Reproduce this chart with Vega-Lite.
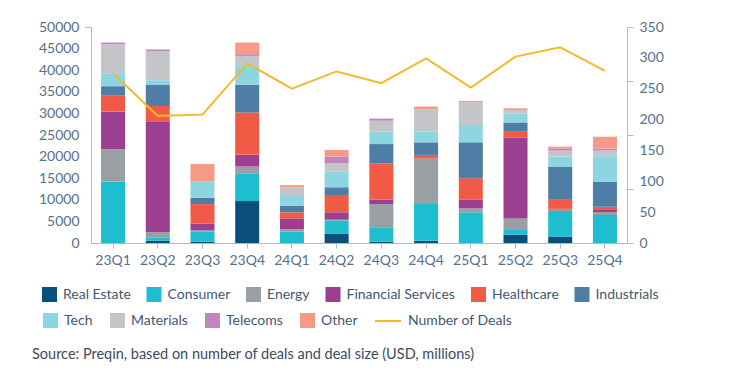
{
  "$schema": "https://vega.github.io/schema/vega-lite/v6.json",
  "autosize": "none",
  "width": 536,
  "height": 216,
  "padding": {"left": 91, "top": 27, "right": 123, "bottom": 134},
  "background": "white",
  "config": {
    "view": {"stroke": null},
    "font": "Lato",
    "axis": {"labelFont": "Lato", "labelFontSize": 14, "labelColor": "#56718c", "domainColor": "#b5b9bd", "tickColor": "#b5b9bd", "grid": false, "title": null},
    "legend": {"padding": 0, "offset": 0, "labelFont": "Lato", "labelFontSize": 14, "labelColor": "#3f5873", "title": null}
  },
  "title": {
    "text": "Source: Preqin, based on number of deals and deal size (USD, millions)",
    "orient": "bottom",
    "anchor": "start",
    "frame": "group",
    "dx": -59,
    "offset": 20,
    "font": "Lato",
    "fontSize": 14.5,
    "fontWeight": "normal",
    "color": "#3d4b5c"
  },
  "datasets": {
    "deals": [
      {"q": "23Q1", "sector": "Consumer", "v": 14200},
      {"q": "23Q1", "sector": "Energy", "v": 7500},
      {"q": "23Q1", "sector": "Financial Services", "v": 8700},
      {"q": "23Q1", "sector": "Healthcare", "v": 3700},
      {"q": "23Q1", "sector": "Industrials", "v": 2200},
      {"q": "23Q1", "sector": "Tech", "v": 3000},
      {"q": "23Q1", "sector": "Materials", "v": 6700},
      {"q": "23Q1", "sector": "Telecoms", "v": 400},
      {"q": "23Q2", "sector": "Real Estate", "v": 500},
      {"q": "23Q2", "sector": "Consumer", "v": 700},
      {"q": "23Q2", "sector": "Energy", "v": 1300},
      {"q": "23Q2", "sector": "Financial Services", "v": 25700},
      {"q": "23Q2", "sector": "Healthcare", "v": 3500},
      {"q": "23Q2", "sector": "Industrials", "v": 4900},
      {"q": "23Q2", "sector": "Tech", "v": 1100},
      {"q": "23Q2", "sector": "Materials", "v": 6700},
      {"q": "23Q2", "sector": "Telecoms", "v": 400},
      {"q": "23Q3", "sector": "Real Estate", "v": 300},
      {"q": "23Q3", "sector": "Consumer", "v": 2400},
      {"q": "23Q3", "sector": "Energy", "v": 200},
      {"q": "23Q3", "sector": "Financial Services", "v": 1600},
      {"q": "23Q3", "sector": "Healthcare", "v": 4500},
      {"q": "23Q3", "sector": "Industrials", "v": 1500},
      {"q": "23Q3", "sector": "Tech", "v": 3700},
      {"q": "23Q3", "sector": "Other", "v": 4100},
      {"q": "23Q4", "sector": "Real Estate", "v": 9700},
      {"q": "23Q4", "sector": "Consumer", "v": 6300},
      {"q": "23Q4", "sector": "Energy", "v": 1700},
      {"q": "23Q4", "sector": "Financial Services", "v": 2700},
      {"q": "23Q4", "sector": "Healthcare", "v": 9800},
      {"q": "23Q4", "sector": "Industrials", "v": 6400},
      {"q": "23Q4", "sector": "Tech", "v": 4400},
      {"q": "23Q4", "sector": "Materials", "v": 2300},
      {"q": "23Q4", "sector": "Telecoms", "v": 400},
      {"q": "23Q4", "sector": "Other", "v": 2700},
      {"q": "24Q1", "sector": "Consumer", "v": 2600},
      {"q": "24Q1", "sector": "Energy", "v": 600},
      {"q": "24Q1", "sector": "Financial Services", "v": 2500},
      {"q": "24Q1", "sector": "Healthcare", "v": 1400},
      {"q": "24Q1", "sector": "Industrials", "v": 1500},
      {"q": "24Q1", "sector": "Tech", "v": 2500},
      {"q": "24Q1", "sector": "Materials", "v": 1800},
      {"q": "24Q1", "sector": "Other", "v": 500},
      {"q": "24Q2", "sector": "Real Estate", "v": 2200},
      {"q": "24Q2", "sector": "Consumer", "v": 3000},
      {"q": "24Q2", "sector": "Energy", "v": 200},
      {"q": "24Q2", "sector": "Financial Services", "v": 1700},
      {"q": "24Q2", "sector": "Healthcare", "v": 4000},
      {"q": "24Q2", "sector": "Industrials", "v": 1800},
      {"q": "24Q2", "sector": "Tech", "v": 3600},
      {"q": "24Q2", "sector": "Materials", "v": 1900},
      {"q": "24Q2", "sector": "Telecoms", "v": 1600},
      {"q": "24Q2", "sector": "Other", "v": 1500},
      {"q": "24Q3", "sector": "Real Estate", "v": 300},
      {"q": "24Q3", "sector": "Consumer", "v": 3200},
      {"q": "24Q3", "sector": "Energy", "v": 5500},
      {"q": "24Q3", "sector": "Financial Services", "v": 1000},
      {"q": "24Q3", "sector": "Healthcare", "v": 8400},
      {"q": "24Q3", "sector": "Industrials", "v": 4500},
      {"q": "24Q3", "sector": "Tech", "v": 2900},
      {"q": "24Q3", "sector": "Materials", "v": 2500},
      {"q": "24Q3", "sector": "Telecoms", "v": 500},
      {"q": "24Q4", "sector": "Real Estate", "v": 500},
      {"q": "24Q4", "sector": "Consumer", "v": 8500},
      {"q": "24Q4", "sector": "Energy", "v": 10600},
      {"q": "24Q4", "sector": "Healthcare", "v": 800},
      {"q": "24Q4", "sector": "Industrials", "v": 2900},
      {"q": "24Q4", "sector": "Tech", "v": 2500},
      {"q": "24Q4", "sector": "Materials", "v": 5100},
      {"q": "24Q4", "sector": "Other", "v": 700},
      {"q": "25Q1", "sector": "Consumer", "v": 7100},
      {"q": "25Q1", "sector": "Energy", "v": 900},
      {"q": "25Q1", "sector": "Financial Services", "v": 2000},
      {"q": "25Q1", "sector": "Healthcare", "v": 5000},
      {"q": "25Q1", "sector": "Industrials", "v": 8300},
      {"q": "25Q1", "sector": "Tech", "v": 4000},
      {"q": "25Q1", "sector": "Materials", "v": 5300},
      {"q": "25Q1", "sector": "Other", "v": 300},
      {"q": "25Q2", "sector": "Real Estate", "v": 1900},
      {"q": "25Q2", "sector": "Consumer", "v": 1300},
      {"q": "25Q2", "sector": "Energy", "v": 2500},
      {"q": "25Q2", "sector": "Financial Services", "v": 18700},
      {"q": "25Q2", "sector": "Healthcare", "v": 1500},
      {"q": "25Q2", "sector": "Industrials", "v": 2000},
      {"q": "25Q2", "sector": "Tech", "v": 2100},
      {"q": "25Q2", "sector": "Materials", "v": 800},
      {"q": "25Q2", "sector": "Other", "v": 400},
      {"q": "25Q3", "sector": "Real Estate", "v": 1500},
      {"q": "25Q3", "sector": "Consumer", "v": 5900},
      {"q": "25Q3", "sector": "Energy", "v": 500},
      {"q": "25Q3", "sector": "Healthcare", "v": 2100},
      {"q": "25Q3", "sector": "Industrials", "v": 7700},
      {"q": "25Q3", "sector": "Tech", "v": 2300},
      {"q": "25Q3", "sector": "Materials", "v": 1400},
      {"q": "25Q3", "sector": "Telecoms", "v": 400},
      {"q": "25Q3", "sector": "Other", "v": 500},
      {"q": "25Q4", "sector": "Consumer", "v": 6500},
      {"q": "25Q4", "sector": "Energy", "v": 600},
      {"q": "25Q4", "sector": "Financial Services", "v": 700},
      {"q": "25Q4", "sector": "Healthcare", "v": 600},
      {"q": "25Q4", "sector": "Industrials", "v": 5800},
      {"q": "25Q4", "sector": "Tech", "v": 5900},
      {"q": "25Q4", "sector": "Materials", "v": 1300},
      {"q": "25Q4", "sector": "Telecoms", "v": 500},
      {"q": "25Q4", "sector": "Other", "v": 2700}
    ],
    "counts": [
      {"q": "23Q1", "n": 275},
      {"q": "23Q2", "n": 206},
      {"q": "23Q3", "n": 208},
      {"q": "23Q4", "n": 291},
      {"q": "24Q1", "n": 250},
      {"q": "24Q2", "n": 278},
      {"q": "24Q3", "n": 259},
      {"q": "24Q4", "n": 299},
      {"q": "25Q1", "n": 252},
      {"q": "25Q2", "n": 302},
      {"q": "25Q3", "n": 317},
      {"q": "25Q4", "n": 279}
    ]
  },
  "encoding": {
    "x": {
      "field": "q",
      "type": "nominal",
      "sort": ["23Q1","23Q2","23Q3","23Q4","24Q1","24Q2","24Q3","24Q4","25Q1","25Q2","25Q3","25Q4"],
      "scale": {"paddingInner": 0.463, "paddingOuter": 0.225},
      "axis": {"labelAngle": 0, "tickSize": 5, "labelPadding": 5, "domainWidth": 1}
    }
  },
  "layer": [
    {
      "data": {"name": "deals"},
      "transform": [
        {"calculate": "indexof(['Real Estate','Consumer','Energy','Financial Services','Healthcare','Industrials','Tech','Materials','Telecoms','Other'], datum.sector)", "as": "ord"},
        {"stack": "v", "groupby": ["q"], "sort": [{"field": "ord", "order": "ascending"}], "as": ["v0", "v1"]}
      ],
      "encoding": {
        "y": {
          "field": "v0",
          "type": "quantitative",
          "scale": {"domain": [0, 50000], "nice": false},
          "axis": {
            "orient": "left",
            "values": [0,5000,10000,15000,20000,25000,30000,35000,40000,45000,50000],
            "format": "d",
            "labelPadding": 5,
            "tickSize": 7,
            "tickOpacity": {"condition": {"test": "datum.value === 50000", "value": 1}, "value": 0},
            "labelOverlap": false
          }
        },
        "y2": {"field": "v1"}
      },
      "layer": [
        {
          "transform": [{"filter": {"field": "ord", "lte": 5}}],
          "mark": {"type": "bar"},
          "encoding": {
            "fill": {
              "field": "sector",
              "type": "nominal",
              "scale": {
                "domain": ["Real Estate","Consumer","Energy","Financial Services","Healthcare","Industrials"],
                "range": ["#0a4f7a","#1ebdd0","#9a9fa3","#9c3f90","#f15a45","#4e7da6"]
              },
              "legend": {
                "orient": "none",
                "legendX": -49,
                "legendY": 260,
                "direction": "horizontal",
                "columns": 6,
                "symbolType": "square",
                "symbolSize": 225,
                "symbolStrokeWidth": 0,
                "labelOffset": 6,
                "columnPadding": 15.5
              }
            }
          }
        },
        {
          "transform": [{"filter": {"field": "ord", "gte": 6}}],
          "mark": {"type": "bar"},
          "encoding": {
            "color": {
              "field": "sector",
              "type": "nominal",
              "scale": {
                "domain": ["Tech","Materials","Telecoms","Other"],
                "range": ["#8dd5e0","#c3c5c8","#c086bd","#f59a87"]
              },
              "legend": {
                "orient": "none",
                "legendX": -48,
                "legendY": 286,
                "direction": "horizontal",
                "columns": 4,
                "symbolType": "square",
                "symbolSize": 225,
                "symbolStrokeWidth": 0,
                "labelOffset": 6,
                "columnPadding": 17
              }
            }
          }
        }
      ]
    },
    {
      "data": {"name": "counts"},
      "mark": {"type": "line", "strokeWidth": 2},
      "encoding": {
        "y": {
          "field": "n",
          "type": "quantitative",
          "scale": {"domain": [0, 350], "nice": false},
          "axis": {
            "orient": "right",
            "values": [0,50,87.5,100,150,175,200,250,262.5,300,350],
            "format": "d",
            "labelExpr": "datum.value % 50 === 0 ? datum.label : ''",
            "labelPadding": 6,
            "tickSize": 6,
            "tickOpacity": {"condition": {"test": "datum.value % 87.5 === 0", "value": 1}, "value": 0},
            "labelOverlap": false
          }
        },
        "stroke": {
          "datum": "Number of Deals",
          "type": "nominal",
          "scale": {"domain": ["Number of Deals"], "range": ["#f6b82b"]},
          "legend": {
            "orient": "none",
            "legendX": 283,
            "legendY": 280,
            "symbolType": "stroke",
            "symbolSize": 676,
            "symbolStrokeWidth": 2,
            "labelOffset": 6
          }
        }
      }
    }
  ],
  "resolve": {"scale": {"y": "independent"}}
}
